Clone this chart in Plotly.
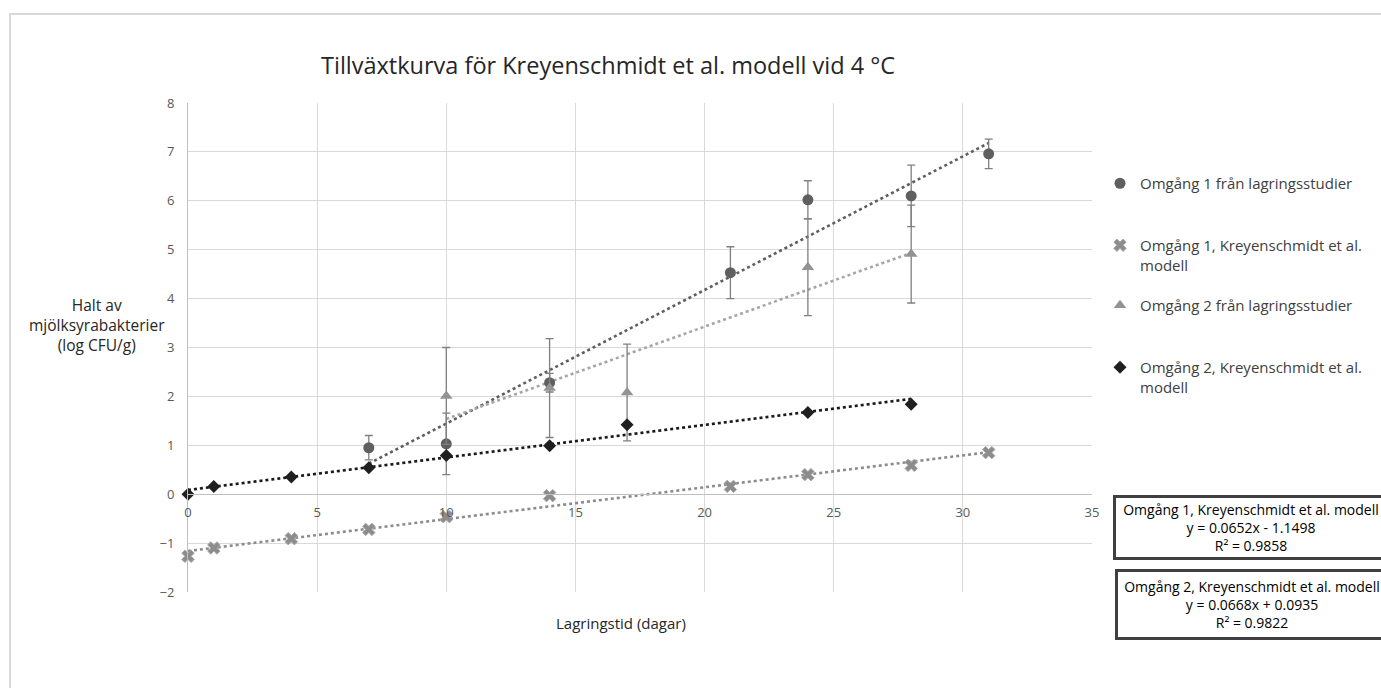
import numpy as np
import plotly.graph_objects as go

# ---- data ----
x_o1 = [7, 10, 14, 21, 24, 28, 31]
y_o1 = [0.95, 1.03, 2.28, 4.53, 6.02, 6.10, 6.96]
e_o1 = [0.25, 0.63, 0.19, 0.53, 0.39, 0.63, 0.30]

x_m1 = [0, 1, 4, 7, 10, 14, 21, 24, 28, 31]
y_m1 = [-1.27, -1.10, -0.91, -0.72, -0.46, -0.03, 0.16, 0.40, 0.59, 0.85]

x_o2 = [10, 14, 17, 24, 28]
y_o2 = [2.01, 2.17, 2.08, 4.64, 4.91]
e_o2 = [0.99, 1.01, 0.99, 0.99, 1.00]

x_m2 = [0, 1, 4, 7, 10, 14, 17, 24, 28]
y_m2 = [0.0, 0.16, 0.35, 0.54, 0.79, 0.99, 1.42, 1.67, 1.84]

names = ["Omgång 1 från lagringsstudier",
         "Omgång 1, Kreyenschmidt et al.<br>modell",
         "Omgång 2 från lagringsstudier",
         "Omgång 2, Kreyenschmidt et al.<br>modell"]

eq1 = "Omgång 1, Kreyenschmidt et al. modell<br>y = 0.0652x - 1.1498<br>R² = 0.9858"
eq2 = "Omgång 2, Kreyenschmidt et al. modell<br>y = 0.0668x + 0.0935<br>R² = 0.9822"

title = "Tillväxtkurva för Kreyenschmidt et al. modell vid 4 °C"
xtitle = "Lagringstid (dagar)"
ytitle = "Halt av<br>mjölksyrabakterier<br>(log CFU/g)"

FONT = "Open Sans"
W, H = 1381, 688
L, R, T, B = 188, 1092, 103, 592

def px(x):
    return (x - L) / (R - L)

def py(y):
    return (B - y) / (B - T)

fig = go.Figure()

def trend(xs, ys, color):
    k, m = np.polyfit(xs, ys, 1)
    xx = np.array([min(xs), max(xs)])
    fig.add_trace(go.Scatter(x=xx, y=k * xx + m, mode="lines",
                             line=dict(color=color, width=2.6, dash="dot"),
                             showlegend=False, hoverinfo="skip", cliponaxis=False))

trend(x_o1, y_o1, "#5f5f5f")
trend(x_m1, y_m1, "#8c8c8c")
trend(x_o2, y_o2, "#a6a6a6")
trend(x_m2, y_m2, "#1a1a1a")

fig.add_trace(go.Scatter(x=x_o1, y=y_o1, mode="markers", name=names[0], legend="legend",
                         cliponaxis=False,
                         marker=dict(symbol="circle", size=11, color="#5f5f5f"),
                         error_y=dict(type="data", array=e_o1, color="#7f7f7f", thickness=1.3, width=4)))
fig.add_trace(go.Scatter(x=x_m1, y=y_m1, mode="markers", name=names[1], legend="legend2",
                         cliponaxis=False,
                         marker=dict(symbol="x", size=11, color="#8c8c8c",
                                     line=dict(color="#a8a8a8", width=1))))
fig.add_trace(go.Scatter(x=x_o2, y=y_o2, mode="markers", name=names[2], legend="legend3",
                         cliponaxis=False,
                         marker=dict(symbol="triangle-up", size=11, color="#939393"),
                         error_y=dict(type="data", array=e_o2, color="#7f7f7f", thickness=1.3, width=4)))
fig.add_trace(go.Scatter(x=x_m2, y=y_m2, mode="markers", name=names[3], legend="legend4",
                         cliponaxis=False,
                         marker=dict(symbol="diamond", size=10, color="#1f1f1f")))

y0_pos = (0 - (-2)) / (8 - (-2))

def leg(ytop):
    return dict(x=px(1100), y=py(ytop), xanchor="left", yanchor="top", valign="top",
                font=dict(size=15, color="#404040", family=FONT),
                itemwidth=30, bgcolor="rgba(0,0,0,0)")

fig.update_layout(
    width=W, height=H,
    margin=dict(l=L, r=W - R, t=T, b=H - B, autoexpand=False),
    paper_bgcolor="white", plot_bgcolor="white",
    font=dict(family=FONT, color="#595959", size=13),
    xaxis=dict(range=[0, 35], dtick=5, showgrid=True, gridcolor="#d9d9d9", gridwidth=1,
               zeroline=False, showline=True, linecolor="#bfbfbf", linewidth=1,
               anchor="free", position=y0_pos, ticks="", ticklabelstandoff=6,
               tickfont=dict(size=13, color="#595959")),
    yaxis=dict(range=[-2, 8], dtick=1, showgrid=True, gridcolor="#d9d9d9", gridwidth=1,
               zeroline=True, zerolinecolor="#bfbfbf", zerolinewidth=1,
               showline=True, linecolor="#bfbfbf", linewidth=1, ticks="",
               ticklabelstandoff=10, tickfont=dict(size=13, color="#595959")),
    legend=leg(167), legend2=leg(229), legend3=leg(289), legend4=leg(351),
    shapes=[dict(type="rect", xref="paper", yref="paper",
                 x0=px(10), x1=px(1400), y0=py(700), y1=py(14),
                 line=dict(color="#d9d9d9", width=2), fillcolor="rgba(0,0,0,0)", layer="below")],
    annotations=[
        dict(text=title, xref="paper", yref="paper", x=px(608), y=py(65), showarrow=False,
             xanchor="center", yanchor="middle", font=dict(size=23.5, color="#262626", family=FONT)),
        dict(text=ytitle, xref="paper", yref="paper", x=px(97), y=py(325), showarrow=False,
             xanchor="center", yanchor="middle", align="center",
             font=dict(size=15.5, color="#262626", family=FONT)),
        dict(text=xtitle, xref="paper", yref="paper", x=px(621), y=py(623), showarrow=False,
             xanchor="center", yanchor="middle", font=dict(size=15, color="#262626", family=FONT)),
        dict(text=eq1, xref="paper", yref="paper", x=px(1113), y=py(527), showarrow=False,
             xanchor="left", yanchor="middle", align="center", width=266,
             bordercolor="#404040", borderwidth=3, borderpad=2, bgcolor="white",
             font=dict(size=14, color="#000000", family=FONT)),
        dict(text=eq2, xref="paper", yref="paper", x=px(1115), y=py(604), showarrow=False,
             xanchor="left", yanchor="middle", align="center", width=258,
             bordercolor="#404040", borderwidth=3, borderpad=5, bgcolor="white",
             font=dict(size=14, color="#000000", family=FONT)),
    ],
)

fig.write_html("out.html")
